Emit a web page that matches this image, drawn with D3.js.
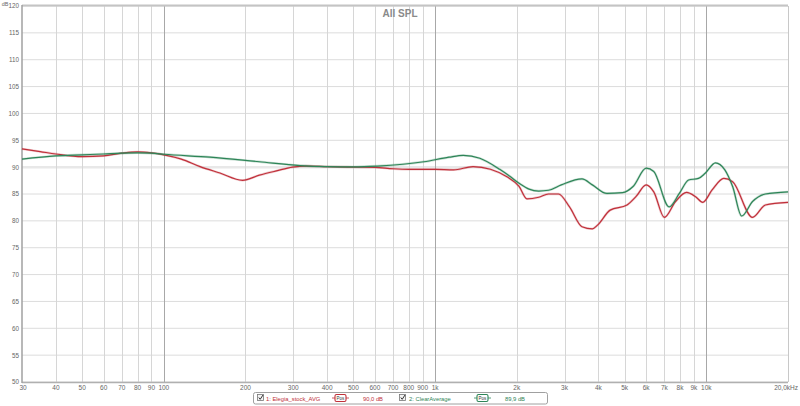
<!DOCTYPE html>
<html>
<head>
<meta charset="utf-8">
<script src="https://cdn.jsdelivr.net/npm/d3@7"></script>
<style>
  html, body { margin: 0; padding: 0; background: #fff; }
  svg { display: block; font-family: "Liberation Sans", Arial, sans-serif; }
</style>
</head>
<body>
<svg id="chart" width="800" height="406"></svg>
<script>
// ---- data ----
const redFreq = [30, 35, 40, 50, 60, 70, 80, 90, 100, 116, 136, 161, 195, 225, 260, 298, 336, 400, 500, 600, 700, 800, 1000, 1170, 1380, 1600, 1840, 2040, 2180, 2410, 2620, 2850, 3130, 3480, 3800, 3970, 4420, 5100, 5500, 6000, 6400, 7000, 7700, 8450, 9130, 9700, 10500, 11600, 12500, 14800, 16500, 20000];
const redDb   = [93.4, 92.9, 92.45, 91.95, 92.1, 92.6, 92.85, 92.65, 92.3, 91.5, 90.1, 88.9, 87.55, 88.5, 89.3, 90.0, 90.2, 90.1, 90.0, 89.95, 89.7, 89.6, 89.6, 89.5, 90.1, 89.6, 88.2, 86.4, 84.1, 84.4, 85.0, 85.0, 82.6, 78.9, 78.5, 79.2, 82.0, 82.95, 84.5, 86.7, 85.4, 80.65, 83.6, 85.3, 84.5, 83.45, 85.75, 87.9, 87.3, 80.65, 82.95, 83.45];
const greenFreq = [30, 40, 50, 60, 70, 80, 90, 100, 148, 225, 318, 400, 500, 613, 909, 1125, 1270, 1462, 1730, 1880, 2040, 2220, 2410, 2620, 2920, 3480, 3800, 4300, 4910, 5370, 6000, 6400, 7290, 7950, 8600, 9350, 9900, 10800, 11700, 12500, 13500, 14800, 16500, 20000];
const greenDb   = [91.5, 92.1, 92.3, 92.45, 92.6, 92.65, 92.6, 92.4, 91.85, 91.0, 90.3, 90.1, 90.05, 90.2, 91.0, 91.85, 92.2, 91.65, 89.6, 88.35, 87.0, 85.9, 85.55, 85.7, 86.7, 87.8, 86.7, 85.1, 85.25, 86.4, 89.8, 89.2, 82.6, 85.1, 87.6, 87.9, 88.85, 90.8, 89.5, 86.4, 80.9, 83.6, 85.0, 85.4];
const xTickValues = [30, 40, 50, 60, 70, 80, 90, 100, 200, 300, 400, 500, 600, 700, 800, 900, 1000, 2000, 3000, 4000, 5000, 6000, 7000, 8000, 9000, 10000, 20000];
const xTickLabels = ["30", "40", "50", "60", "70", "80", "90", "100", "200", "300", "400", "500", "600", "700", "800", "900", "1k", "2k", "3k", "4k", "5k", "6k", "7k", "8k", "9k", "10k", "20,0kHz"];
const yTickValues = [50, 55, 60, 65, 70, 75, 80, 85, 90, 95, 100, 105, 110, 115, 120];
const seriesNames = ["1: Elegia_stock_AVG", "2: ClearAverage"];
const seriesLevels = ["90,0 dB", "89,9 dB"];
const titleText = "All SPL";

(function () {
// ---- layout ----
const svg = d3.select("#chart");
const pl = 22, pr = 788, pt = 6, pb = 382;
const x = d3.scaleLog().domain([30, 20000]).range([pl, pr]);
const y = d3.scaleLinear().domain([50, 120]).range([pb, pt]);
const redC = "#c0303a", greenC = "#2e8558";

// horizontal grid
svg.append("g").selectAll("line").data(yTickValues).join("line")
  .attr("x1", pl).attr("x2", pr)
  .attr("y1", d => y(d)).attr("y2", d => y(d))
  .attr("stroke", d => d === 90 ? "#e8e8e8" : "#dcdcdc")
  .attr("stroke-width", d => d === 90 ? 2.5 : 1);

// vertical grid
const majors = [100, 1000, 10000];
svg.append("g").selectAll("line").data(xTickValues.filter(d => d > 30 && d < 20000)).join("line")
  .attr("x1", d => Math.round(x(d)) + 0.5).attr("x2", d => Math.round(x(d)) + 0.5)
  .attr("y1", pt).attr("y2", pb)
  .attr("stroke", d => majors.includes(d) ? "#a8a8a8" : "#d6d6d6")
  .attr("stroke-width", 1);

// frame
svg.append("line").attr("x1", pl).attr("x2", pr).attr("y1", pt - 0.5).attr("y2", pt - 0.5)
  .attr("stroke", "#c4c4c4").attr("stroke-width", 2);
svg.append("line").attr("x1", pl).attr("x2", pr).attr("y1", pb + 0.5).attr("y2", pb + 0.5)
  .attr("stroke", "#b0b0b0").attr("stroke-width", 1.5);
svg.append("line").attr("x1", pl).attr("x2", pl).attr("y1", pt - 1).attr("y2", pb + 1)
  .attr("stroke", "#a0a0a0").attr("stroke-width", 1.5);
svg.append("line").attr("x1", pr + 0.5).attr("x2", pr + 0.5).attr("y1", pt).attr("y2", pb)
  .attr("stroke", "#c8c8c8").attr("stroke-width", 1);

// y labels
svg.append("g").selectAll("text").data(yTickValues).join("text")
  .attr("x", 19).attr("y", d => y(d) + 2.4)
  .attr("text-anchor", "end").attr("font-size", 6.3).attr("fill", "#666")
  .text(d => d);
svg.append("text").attr("x", 8.5).attr("y", 5.5).attr("text-anchor", "end")
  .attr("font-size", 5.5).attr("fill", "#666").text("dB");

// x labels
svg.append("g").selectAll("text").data(xTickValues).join("text")
  .attr("x", (d, i) => i === xTickValues.length - 1 ? 798 : x(d) + (i === 0 ? 1 : 0))
  .attr("y", 390)
  .attr("text-anchor", (d, i) => i === xTickValues.length - 1 ? "end" : "middle")
  .attr("font-size", 6.5).attr("fill", "#666")
  .text((d, i) => xTickLabels[i]);

// title
svg.append("text").attr("x", 400).attr("y", 16.5).attr("text-anchor", "middle")
  .attr("font-size", 10).attr("font-weight", "bold").attr("fill", "#8a8a8a").text(titleText);

// curves
const line = d3.line().x(d => x(d[0])).y(d => y(d[1])).curve(d3.curveMonotoneX);
const greenData = greenFreq.map((f, i) => [f, greenDb[i]]);
const redData = redFreq.map((f, i) => [f, redDb[i]]);
[[redData, redC], [greenData, greenC]].forEach(([data, c]) => {
  svg.append("path").datum(data).attr("d", line).attr("fill", "none")
    .attr("stroke", c).attr("stroke-opacity", 0.25).attr("stroke-width", 2.4);
  svg.append("path").datum(data).attr("d", line).attr("fill", "none")
    .attr("stroke", c).attr("stroke-width", 1.2);
});

// legend
const lg = svg.append("g");
lg.append("rect").attr("x", 253.5).attr("y", 392.5).attr("width", 294).attr("height", 11.5)
  .attr("rx", 2).attr("fill", "#fff").attr("stroke", "#a0a0a0").attr("stroke-width", 1);
const legendItems = [
  {cb: 257, name: 266, pos: 335, lvl: 363, color: redC},
  {cb: 399, name: 409, pos: 477, lvl: 505, color: greenC}
];
legendItems.forEach((it, i) => {
  lg.append("rect").attr("x", it.cb + 0.5).attr("y", 394.5).attr("width", 6).attr("height", 6)
    .attr("fill", "#f4f4f4").attr("stroke", "#777").attr("stroke-width", 0.8);
  lg.append("path").attr("d", `M${it.cb + 1.8},${397.5} L${it.cb + 3.2},${399.3} L${it.cb + 6},${395}`)
    .attr("fill", "none").attr("stroke", "#333").attr("stroke-width", 1);
  lg.append("text").attr("x", it.name).attr("y", 400.5).attr("font-size", 5.8)
    .attr("fill", it.color).text(seriesNames[i]);
  lg.append("line").attr("x1", it.pos - 3).attr("x2", it.pos + 14).attr("y1", 398).attr("y2", 398)
    .attr("stroke", it.color).attr("stroke-width", 0.8);
  lg.append("rect").attr("x", it.pos).attr("y", 394.5).attr("width", 11).attr("height", 7).attr("rx", 1.5)
    .attr("fill", "#fff").attr("stroke", it.color).attr("stroke-width", 1.1);
  lg.append("text").attr("x", it.pos + 5.5).attr("y", 400).attr("text-anchor", "middle")
    .attr("font-size", 4.5).attr("fill", "#333").text("Pos");
  lg.append("text").attr("x", it.lvl).attr("y", 400.5).attr("font-size", 5.8)
    .attr("fill", it.color).text(seriesLevels[i]);
});
})();
</script>
</body>
</html>
